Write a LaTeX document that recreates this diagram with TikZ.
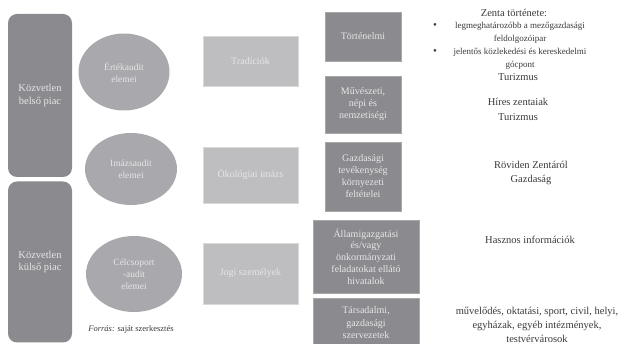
\documentclass[tikz,border=0pt]{standalone}
\usepackage{fontspec}
\setmainfont{Liberation Serif}
\usetikzlibrary{shapes.geometric}
\definecolor{darkg}{HTML}{8B8B8F}
\definecolor{ellg}{HTML}{A9A9AD}
\definecolor{lightg}{HTML}{BEBEC1}
\definecolor{boxedge}{HTML}{A8A8AB}
\definecolor{intext}{HTML}{E6E6E8}
\definecolor{txt}{HTML}{3A3A3A}
\tikzset{
  market/.style={draw=none, fill=darkg, rounded corners=9pt, text=intext, font=\fontsize{10.5}{12.5}\selectfont, align=center},
  audit/.style={ellipse, draw=none, fill=ellg, text=intext, font=\fontsize{9.5}{12}\selectfont, align=center, inner sep=0pt},
  midbox/.style={draw=white!85!black, line width=0.6pt, fill=lightg, text=intext, font=\fontsize{10}{12}\selectfont, align=center, inner sep=0pt},
  rbox/.style={draw=boxedge, line width=0.6pt, fill=darkg, text=intext, font=\fontsize{10}{12}\selectfont, align=center, inner sep=0pt},
  rtext/.style={text=txt, align=center, font=\fontsize{10.5}{14.5}\selectfont, inner sep=0pt},
  stext/.style={text=txt, align=center, font=\fontsize{9}{13}\selectfont, inner sep=0pt},
  dot/.style={text=txt, font=\fontsize{11}{11}\selectfont, inner sep=0pt},
}
\begin{document}
\begin{tikzpicture}[x=1pt,y=-1pt]
\useasboundingbox (0,0) rectangle (619,344);
% left markets
\node[market, minimum width=64pt, minimum height=163pt] (belso) at (40,95.5) {Közvetlen\\belső piac};
\node[market, minimum width=64pt, minimum height=161pt] (kulso) at (40,262) {Közvetlen\\külső piac};
% ellipses
\node[audit, minimum width=91pt, minimum height=77pt] (ertek) at (124,72) {Értékaudit\\elemei};
\node[audit, minimum width=92pt, minimum height=72pt] (imazs) at (131,169) {Imázsaudit\\elemei};
\node[audit, minimum width=96pt, minimum height=76pt] (cel) at (134,274) {Célcsoport\\-audit\\elemei};
\node[text=txt, font=\fontsize{8.5}{10}\selectfont, inner sep=0pt] (forras) at (131,329) {\textit{Forrás:} saját szerkesztés};
% middle boxes
\node[midbox, minimum width=95pt, minimum height=50pt] (trad) at (250.5,61) {Tradíciók};
\node[midbox, minimum width=95pt, minimum height=56pt] (okol) at (250.5,175) {Ökológiai imázs};
\node[midbox, minimum width=95pt, minimum height=61pt] (jogi) at (250.5,273.5) {Jogi személyek};
% right boxes
\node[rbox, minimum width=76pt, minimum height=49pt] (tort) at (363,36.5) {Történelmi};
\node[rbox, minimum width=76pt, minimum height=57pt] (muv) at (363,104.5) {Művészeti,\\népi és\\nemzetiségi};
\node[rbox, minimum width=76pt, minimum height=69pt] (gazd) at (363,176.5) {Gazdasági\\tevékenység\\környezeti\\feltételei};
\node[rbox, minimum width=106pt, minimum height=73pt, font=\fontsize{10}{11.8}\selectfont] (allam) at (366,256.5) {Államigazgatási\\és/vagy\\önkormányzati\\feladatokat ellátó\\hivatalok};
\node[rbox, minimum width=106pt, minimum height=50pt, font=\fontsize{10}{12.5}\selectfont] (tars) at (366,323) {Társadalmi,\\gazdasági\\szervezetek};
% right texts
\node[rtext] (zenta) at (514,13) {Zenta története:};
\node[stext] (b1) at (520,32.5) {legmeghatározóbb a mezőgazdasági\\feldolgozóipar};
\node[stext] (b2) at (520,58.5) {jelentős közlekedési és kereskedelmi\\gócpont};
\node[dot] (d1) at (435,26) {\textbullet};
\node[dot] (d2) at (435,52) {\textbullet};
\node[rtext] (tur1) at (518,77) {Turizmus};
\node[rtext] (hires) at (518,109.5) {Híres zentaiak\\Turizmus};
\node[rtext] (rovid) at (531,173) {Röviden Zentáról\\Gazdaság};
\node[rtext] (hasznos) at (530,240) {Hasznos információk};
\node[rtext, font=\fontsize{10.5}{14}\selectfont] (muvel) at (537,325) {művelődés, oktatási, sport, civil, helyi,\\egyházak, egyéb intézmények,\\testvérvárosok};
\end{tikzpicture}
\end{document}
